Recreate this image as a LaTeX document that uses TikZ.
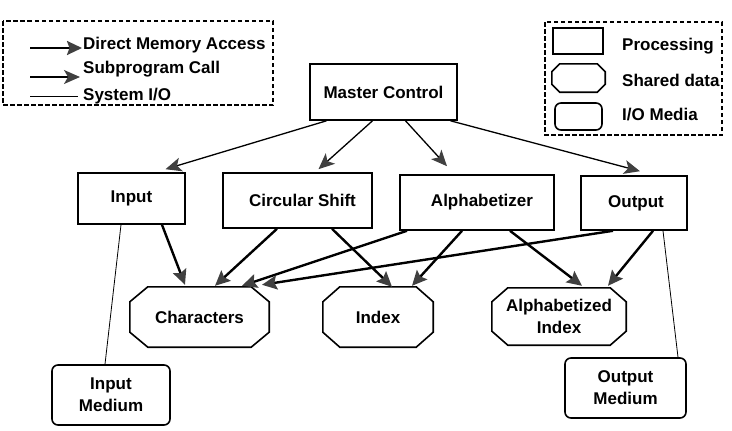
\documentclass[tikz,border=0pt]{standalone}
\usepackage{fontspec}
\setmainfont{Liberation Sans}
\usetikzlibrary{arrows.meta}
\definecolor{tipgray}{HTML}{404040}

\begin{document}
\begin{tikzpicture}[x=1pt,y=-1pt,
    every node/.style={font=\fontsize{17}{22}\selectfont\bfseries,inner sep=0pt},
    proc/.style={draw,line width=1.6pt},
    shared/.style={rectangle},
    media/.style={draw,line width=1.6pt,rounded corners=6pt},
    dma/.style={line width=2.4pt,-{Stealth[length=15pt,width=14pt,inset=2.5pt,color=tipgray]}},
    call/.style={line width=1.3pt,-{Stealth[length=16pt,width=14pt,inset=4pt,color=tipgray]}},
    sysio/.style={line width=0.8pt},
    legend/.style={draw,line width=1.6pt,dash pattern=on 4.5pt off 2.5pt}]
    \useasboundingbox (0,0) rectangle (732,431);

    % legend, left
    \draw[legend] (3,21) rectangle (273,105);
    \node[anchor=west] (ldma) at (83,45) {Direct Memory Access};
    \node[anchor=west] (lcall) at (83,69) {Subprogram Call};
    \node[anchor=west] (lio) at (83,96) {System I/O};
    \coordinate (ldmastart) at (30,48);
    \coordinate (lcallstart) at (30,77);
    \coordinate (liostart) at (30,96);
    \draw[dma] (ldmastart) -- ([xshift=-1pt]ldmastart -| ldma.west);
    \draw[call] (lcallstart) -- ([xshift=-3pt]lcallstart -| lcall.west);
    \draw[sysio] (liostart) -- ([xshift=-5pt]liostart -| lio.west);

    % legend, right
    \draw[legend] (545,22) rectangle (722,135);
    \node[proc,minimum width=50pt,minimum height=26pt] (kproc) at (578,41) {};
    \node[shared,minimum width=53pt,minimum height=28pt] (kshared) at (578.5,78) {};
    \node[media,minimum width=47pt,minimum height=27pt] (kmedia) at (578.5,116.5) {};
    \node[anchor=west] at (622,46) {Processing};
    \node[anchor=west] at (622,80) {Shared data};
    \node[anchor=west] at (622,115) {I/O Media};

    % processing
    \node[proc,minimum width=147pt,minimum height=56pt] (master) at (383.5,92) {Master Control};
    \node[proc,minimum width=107pt,minimum height=51pt] (input) at (131.5,198.5) {Input};
    \node[proc,minimum width=149pt,minimum height=55pt] (circ) at (297.5,200.5) {\hspace{10pt}Circular Shift};
    \node[proc,minimum width=154pt,minimum height=55pt] (alpha) at (477,202.5) {\hspace{10pt}Alphabetizer};
    \node[proc,minimum width=106pt,minimum height=54pt] (output) at (634,203) {\hspace{4pt}Output};

    % shared data
    \node[shared,minimum width=139pt,minimum height=60pt] (chars) at (199.5,317) {Characters};
    \node[shared,minimum width=110pt,minimum height=60pt] (index) at (378,317) {Index};
    \node[shared,minimum width=134pt,minimum height=57pt,align=center] (aindex) at (559,316.5) {Alphabetized\\Index};
    % octagon outlines round the shared data
    \foreach \n/\dx/\dy in {chars/18/15,index/17/15,aindex/16/14,kshared/8/8}
      \draw[line width=1.6pt] ([xshift=\dx pt]\n.north west) -- ([xshift=-\dx pt]\n.north east)
        -- ([yshift=-\dy pt]\n.north east) -- ([yshift=\dy pt]\n.south east)
        -- ([xshift=-\dx pt]\n.south east) -- ([xshift=\dx pt]\n.south west)
        -- ([yshift=\dy pt]\n.south west) -- ([yshift=-\dy pt]\n.north west) -- cycle;

    % i/o media
    \node[media,minimum width=118pt,minimum height=60pt,align=center] (inmed) at (111,395) {Input\\Medium};
    \node[media,minimum width=121pt,minimum height=60pt,align=center] (outmed) at (625.5,388) {Output\\Medium};

    % subprogram calls
    \draw[call] ([xshift=-57pt]master.south) -- ([xshift=34pt,yshift=3pt]input.north);
    \draw[call] ([xshift=-11pt]master.south) -- ([xshift=21pt,yshift=3pt]circ.north);
    \draw[call] ([xshift=22pt]master.south) -- ([xshift=-30pt,yshift=8pt]alpha.north);
    \draw[call] ([xshift=67pt]master.south) -- ([xshift=6pt,yshift=4pt]output.north);

    % direct memory access
    \draw[dma] ([xshift=30.5pt]input.south) -- ([xshift=-14.5pt,yshift=2pt]chars.north);
    \draw[dma] ([xshift=-20.5pt]circ.south) -- ([xshift=15.5pt,yshift=1pt]chars.north);
    \draw[dma] ([xshift=34.5pt]circ.south) -- ([xshift=14pt]index.north);
    \draw[dma] ([xshift=-70pt]alpha.south) -- ([xshift=42.5pt,yshift=1pt]chars.north);
    \draw[dma] ([xshift=-21pt]output.south) -- ([xshift=62.5pt,yshift=2pt]chars.north);
    \draw[dma] ([xshift=-15pt]alpha.south) -- ([xshift=34pt,yshift=1pt]index.north);
    \draw[dma] ([xshift=33pt]alpha.south) -- ([xshift=23pt,yshift=2pt]aindex.north);
    \draw[dma] ([xshift=19pt]output.south) -- ([xshift=49pt,yshift=2pt]aindex.north);

    % system i/o
    \draw[sysio] ([xshift=-10.5pt]input.south) -- ([xshift=-6pt]inmed.north);
    \draw[sysio] ([xshift=29pt]output.south) -- ([xshift=52.5pt]outmed.north);
\end{tikzpicture}
\end{document}
